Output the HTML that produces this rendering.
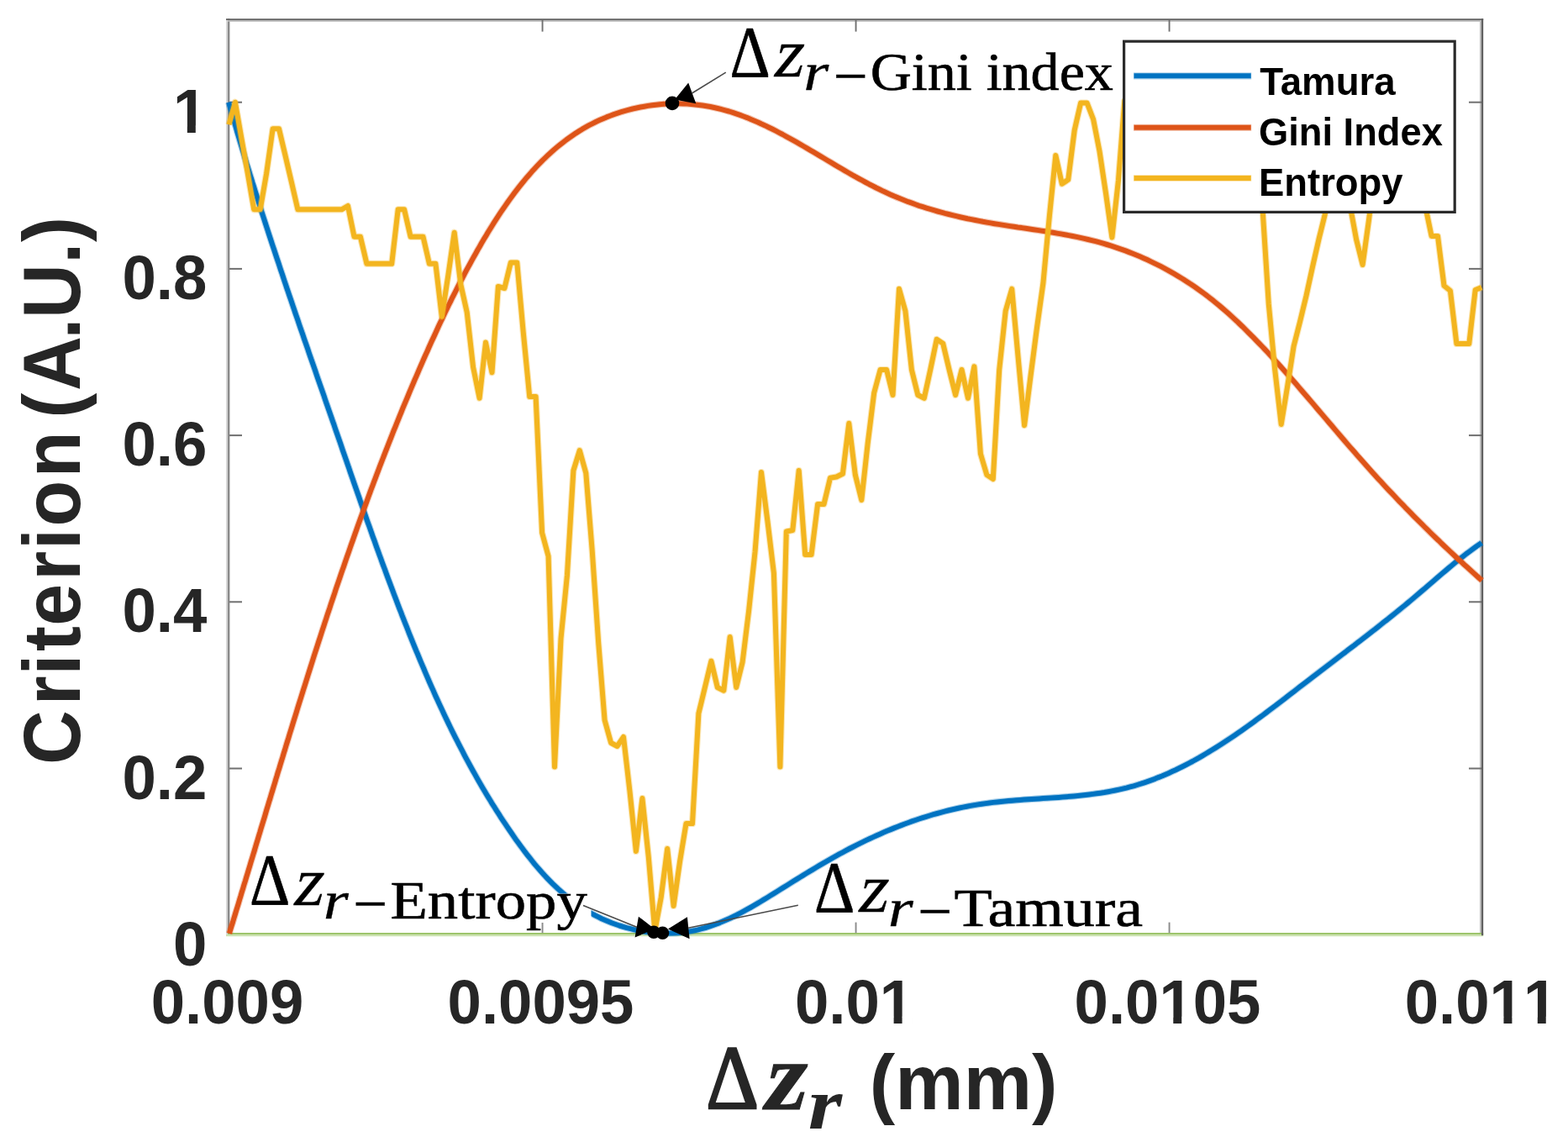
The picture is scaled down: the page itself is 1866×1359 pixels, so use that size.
<!DOCTYPE html>
<html lang="en"><head><meta charset="utf-8"><title>Criterion vs reconstruction distance</title>
<style>
html,body{margin:0;padding:0;background:#fff;}
body{width:1866px;height:1359px;overflow:hidden;}
svg{display:block;}
.sb{font-family:"Liberation Sans",Arial,Helvetica,sans-serif;font-weight:bold;}
.nk{font-kerning:none;}
.se{font-family:"Liberation Serif","Times New Roman",serif;}
.si{font-family:"Liberation Serif","Times New Roman",serif;font-style:italic;}
.seb{font-family:"Liberation Serif","Times New Roman",serif;font-weight:bold;}
.sbi{font-family:"Liberation Serif","Times New Roman",serif;font-weight:bold;font-style:italic;}
</style></head><body>
<svg width="1866" height="1359" viewBox="0 0 1866 1359">
<rect x="0" y="0" width="1866" height="1359" fill="#ffffff"/>
<defs><clipPath id="plot"><rect x="271.0" y="23.3" width="1494.0" height="1091.4"/></clipPath></defs>

<g>
<rect x="269" y="1110.0" width="1496.2" height="2.3" fill="#9DC56C"/>
<rect x="269" y="1112.3" width="1496.2" height="1.9" fill="#C9E0AB"/>
<rect x="269.0" y="22.2" width="2.0" height="1090" fill="#d6d6d6"/>
<rect x="271.0" y="22.2" width="2.4" height="1088" fill="#8a8a8a"/>
<rect x="269" y="22.2" width="1496.2" height="1.8" fill="#666666"/>
<rect x="271" y="24.0" width="1492" height="1.8" fill="#b8b8b8"/>
<rect x="1761.0" y="24" width="2.0" height="1086" fill="#bdbdbd"/>
<rect x="1763.0" y="22.2" width="2.2" height="1091" fill="#5e5e5e"/>
<rect x="644.6" y="24" width="1.9" height="13.6" fill="#707070"/>
<rect x="644.6" y="1097.6" width="1.9" height="12.6" fill="#8a8a8a"/>
<rect x="1017.6" y="24" width="1.9" height="13.6" fill="#707070"/>
<rect x="1017.6" y="1097.6" width="1.9" height="12.6" fill="#8a8a8a"/>
<rect x="1390.6" y="24" width="1.9" height="13.6" fill="#707070"/>
<rect x="1390.6" y="1097.6" width="1.9" height="12.6" fill="#8a8a8a"/>
<rect x="273" y="913.5" width="15" height="2.0" fill="#707070"/>
<rect x="1748" y="913.5" width="15" height="2.0" fill="#707070"/>
<rect x="273" y="715.3" width="15" height="2.0" fill="#707070"/>
<rect x="1748" y="715.3" width="15" height="2.0" fill="#707070"/>
<rect x="273" y="517.1" width="15" height="2.0" fill="#707070"/>
<rect x="1748" y="517.1" width="15" height="2.0" fill="#707070"/>
<rect x="273" y="318.9" width="15" height="2.0" fill="#707070"/>
<rect x="1748" y="318.9" width="15" height="2.0" fill="#707070"/>
<rect x="273" y="120.7" width="15" height="2.0" fill="#707070"/>
<rect x="1748" y="120.7" width="15" height="2.0" fill="#707070"/>
</g>
<g fill="none" stroke-linejoin="round" stroke-linecap="butt">
<path d="M272.2,121.7 L273.4,126.1 L274.7,130.5 L275.9,134.9 L277.2,139.3 L278.4,143.6 L279.7,148.0 L281.0,152.4 L282.2,156.8 L283.5,161.1 L284.8,165.5 L286.1,169.9 L287.4,174.2 L288.7,178.6 L290.0,182.9 L291.3,187.3 L292.6,191.6 L293.9,196.0 L295.3,200.3 L296.6,204.7 L297.9,209.0 L299.3,213.3 L300.6,217.7 L302.0,222.0 L303.3,226.3 L304.7,230.7 L306.1,235.0 L307.4,239.3 L308.8,243.6 L310.2,248.0 L311.5,252.3 L312.9,256.6 L314.3,260.9 L315.7,265.2 L317.1,269.6 L318.5,273.9 L319.9,278.2 L321.3,282.5 L322.7,286.8 L324.1,291.1 L325.6,295.4 L327.0,299.7 L328.4,304.0 L329.8,308.3 L331.3,312.6 L332.7,316.9 L334.1,321.2 L335.6,325.5 L337.0,329.8 L338.4,334.1 L339.9,338.4 L341.3,342.7 L342.8,347.0 L344.2,351.3 L345.7,355.6 L347.2,359.9 L348.6,364.1 L350.1,368.4 L351.5,372.7 L353.0,377.0 L354.5,381.3 L355.9,385.6 L357.4,389.9 L358.9,394.2 L360.4,398.4 L361.8,402.7 L363.3,407.0 L364.8,411.3 L366.3,415.6 L367.7,419.9 L369.2,424.2 L370.7,428.4 L372.2,432.7 L373.7,437.0 L375.2,441.3 L376.6,445.6 L378.1,449.9 L379.6,454.2 L381.1,458.5 L382.6,462.7 L384.1,467.0 L385.6,471.3 L387.0,475.6 L388.5,479.9 L390.0,484.2 L391.5,488.5 L393.0,492.8 L394.5,497.1 L396.0,501.4 L397.5,505.6 L398.9,509.9 L400.4,514.2 L401.9,518.5 L403.4,522.8 L404.9,527.1 L406.4,531.4 L407.8,535.7 L409.3,540.0 L410.8,544.3 L412.3,548.6 L413.8,552.9 L415.3,557.2 L416.7,561.5 L418.2,565.8 L419.7,570.1 L421.2,574.4 L422.7,578.7 L424.2,583.0 L425.7,587.3 L427.2,591.6 L428.7,595.9 L430.2,600.2 L431.7,604.5 L433.2,608.8 L434.7,613.1 L436.2,617.4 L437.7,621.7 L439.3,626.0 L440.8,630.3 L442.3,634.6 L443.8,638.9 L445.4,643.1 L446.9,647.4 L448.4,651.7 L450.0,656.0 L451.5,660.3 L453.1,664.5 L454.6,668.8 L456.2,673.1 L457.8,677.3 L459.3,681.6 L460.9,685.9 L462.5,690.1 L464.1,694.4 L465.7,698.6 L467.3,702.9 L468.9,707.2 L470.5,711.4 L472.1,715.6 L473.7,719.9 L475.3,724.1 L477.0,728.3 L478.6,732.6 L480.3,736.8 L481.9,741.0 L483.6,745.2 L485.3,749.5 L486.9,753.7 L488.6,757.9 L490.3,762.1 L492.0,766.3 L493.7,770.5 L495.4,774.7 L497.2,778.8 L498.9,783.0 L500.6,787.2 L502.4,791.4 L504.2,795.5 L505.9,799.7 L507.7,803.9 L509.5,808.0 L511.3,812.2 L513.1,816.3 L515.0,820.4 L516.8,824.6 L518.6,828.7 L520.5,832.8 L522.4,836.9 L524.3,841.0 L526.2,845.1 L528.1,849.2 L530.0,853.3 L532.0,857.4 L533.9,861.4 L535.9,865.5 L537.9,869.6 L539.9,873.6 L541.9,877.6 L544.0,881.7 L546.0,885.7 L548.1,889.7 L550.2,893.7 L552.3,897.8 L554.4,901.8 L556.5,905.7 L558.7,909.7 L560.9,913.7 L563.1,917.7 L565.3,921.6 L567.5,925.6 L569.7,929.5 L572.0,933.4 L574.3,937.4 L576.6,941.3 L578.9,945.2 L581.3,949.1 L583.7,953.0 L586.0,956.9 L588.5,960.7 L590.9,964.6 L593.4,968.4 L595.8,972.3 L598.3,976.1 L600.9,979.9 L603.4,983.7 L606.0,987.5 L608.6,991.3 L611.2,995.1 L613.8,998.9 L616.5,1002.6 L619.2,1006.3 L622.0,1010.0 L624.7,1013.7 L627.5,1017.3 L630.4,1020.9 L633.2,1024.5 L636.1,1028.1 L639.1,1031.6 L642.1,1035.0 L645.1,1038.4 L648.1,1041.8 L651.2,1045.1 L654.4,1048.4 L657.6,1051.6 L660.8,1054.7 L664.1,1057.8 L667.5,1060.8 L670.9,1063.8 L674.3,1066.7 L677.8,1069.5 L681.4,1072.2 L685.0,1074.9 L688.6,1077.5 L692.3,1080.0 L696.1,1082.4 L700.0,1084.8 L703.9,1087.0 L707.8,1089.1 L711.9,1091.2 L716.0,1093.2 L720.1,1095.0 L724.3,1096.8 L728.5,1098.5 L732.8,1100.0 L737.1,1101.5 L741.5,1102.8 L745.9,1104.1 L750.3,1105.2 L754.7,1106.3 L759.2,1107.2 L763.7,1108.0 L768.2,1108.8 L772.7,1109.4 L777.2,1109.8 L781.8,1110.2 L786.3,1110.5 L790.8,1110.6 L795.3,1110.6 L799.9,1110.5 L804.4,1110.3 L808.8,1109.9 L813.3,1109.5 L817.8,1108.9 L822.2,1108.1 L826.6,1107.3 L830.9,1106.3 L835.2,1105.2 L839.5,1104.0 L843.8,1102.7 L848.0,1101.2 L852.2,1099.7 L856.4,1098.1 L860.6,1096.3 L864.7,1094.5 L868.8,1092.7 L872.9,1090.7 L877.0,1088.7 L881.0,1086.6 L885.1,1084.4 L889.1,1082.2 L893.1,1080.0 L897.1,1077.7 L901.0,1075.4 L905.0,1073.0 L908.9,1070.6 L912.9,1068.2 L916.8,1065.8 L920.7,1063.4 L924.6,1061.0 L928.5,1058.5 L932.4,1056.1 L936.3,1053.7 L940.2,1051.3 L944.1,1048.8 L948.0,1046.4 L951.9,1044.0 L955.8,1041.6 L959.6,1039.3 L963.5,1036.9 L967.4,1034.6 L971.3,1032.2 L975.2,1029.9 L979.1,1027.6 L983.1,1025.3 L987.0,1023.1 L990.9,1020.8 L994.9,1018.6 L998.8,1016.4 L1002.8,1014.3 L1006.8,1012.1 L1010.8,1010.0 L1014.8,1008.0 L1018.9,1005.9 L1022.9,1003.9 L1027.0,1001.9 L1031.0,999.9 L1035.1,998.0 L1039.2,996.1 L1043.3,994.2 L1047.4,992.4 L1051.6,990.6 L1055.7,988.8 L1059.9,987.1 L1064.1,985.4 L1068.3,983.7 L1072.5,982.1 L1076.7,980.5 L1080.9,979.0 L1085.2,977.4 L1089.4,976.0 L1093.7,974.5 L1098.0,973.1 L1102.3,971.8 L1106.6,970.5 L1110.9,969.2 L1115.3,968.0 L1119.6,966.8 L1124.0,965.6 L1128.4,964.5 L1132.8,963.5 L1137.2,962.5 L1141.6,961.5 L1146.0,960.6 L1150.5,959.7 L1154.9,958.9 L1159.4,958.1 L1163.9,957.4 L1168.4,956.7 L1172.9,956.1 L1177.4,955.5 L1182.0,954.9 L1186.5,954.4 L1191.1,953.9 L1195.7,953.5 L1200.2,953.1 L1204.8,952.7 L1209.4,952.3 L1214.0,952.0 L1218.6,951.6 L1223.2,951.3 L1227.8,951.0 L1232.4,950.7 L1236.9,950.4 L1241.5,950.1 L1246.1,949.8 L1250.7,949.5 L1255.3,949.2 L1259.9,948.9 L1264.5,948.5 L1269.0,948.2 L1273.6,947.8 L1278.2,947.4 L1282.7,947.0 L1287.2,946.5 L1291.8,946.0 L1296.3,945.5 L1300.8,944.9 L1305.3,944.3 L1309.7,943.7 L1314.2,943.0 L1318.6,942.2 L1323.0,941.4 L1327.4,940.5 L1331.8,939.6 L1336.2,938.6 L1340.5,937.6 L1344.8,936.4 L1349.1,935.3 L1353.4,934.0 L1357.7,932.7 L1361.9,931.3 L1366.1,929.8 L1370.3,928.3 L1374.5,926.8 L1378.6,925.1 L1382.8,923.5 L1386.9,921.7 L1391.0,919.9 L1395.0,918.1 L1399.1,916.2 L1403.1,914.2 L1407.2,912.2 L1411.2,910.2 L1415.2,908.1 L1419.2,906.0 L1423.1,903.8 L1427.1,901.6 L1431.0,899.3 L1434.9,897.0 L1438.8,894.7 L1442.7,892.3 L1446.6,889.9 L1450.4,887.5 L1454.3,885.0 L1458.1,882.5 L1461.9,880.0 L1465.7,877.5 L1469.5,874.9 L1473.3,872.3 L1477.1,869.7 L1480.9,867.0 L1484.6,864.3 L1488.3,861.7 L1492.1,859.0 L1495.8,856.2 L1499.5,853.5 L1503.2,850.8 L1506.9,848.0 L1510.6,845.2 L1514.3,842.4 L1518.0,839.7 L1521.6,836.9 L1525.3,834.1 L1528.9,831.3 L1532.6,828.4 L1536.2,825.6 L1539.9,822.8 L1543.5,820.0 L1547.1,817.2 L1550.8,814.4 L1554.4,811.7 L1558.0,808.9 L1561.6,806.1 L1565.2,803.3 L1568.8,800.6 L1572.4,797.8 L1576.0,795.1 L1579.6,792.3 L1583.2,789.6 L1586.8,786.9 L1590.4,784.1 L1593.9,781.4 L1597.5,778.7 L1601.1,776.0 L1604.6,773.2 L1608.2,770.5 L1611.8,767.8 L1615.3,765.0 L1618.9,762.3 L1622.4,759.6 L1626.0,756.8 L1629.5,754.1 L1633.0,751.3 L1636.6,748.6 L1640.1,745.8 L1643.6,743.0 L1647.1,740.2 L1650.7,737.5 L1654.2,734.6 L1657.7,731.8 L1661.2,729.0 L1664.7,726.2 L1668.2,723.3 L1671.7,720.5 L1675.1,717.6 L1678.6,714.7 L1682.1,711.8 L1685.6,708.8 L1689.0,705.9 L1692.5,702.9 L1696.0,700.0 L1699.4,697.0 L1702.9,694.0 L1706.4,691.0 L1709.8,688.0 L1713.3,685.0 L1716.8,682.0 L1720.3,679.1 L1723.8,676.1 L1727.3,673.2 L1730.8,670.3 L1734.3,667.4 L1737.9,664.6 L1741.5,661.8 L1745.0,659.0 L1748.7,656.3 L1752.3,653.6 L1755.9,651.0 L1759.6,648.4 L1763.3,645.9" stroke="#0073C2" stroke-width="8.2" stroke-opacity="0.32"/>
<path d="M272.2,121.7 L273.4,126.1 L274.7,130.5 L275.9,134.9 L277.2,139.3 L278.4,143.6 L279.7,148.0 L281.0,152.4 L282.2,156.8 L283.5,161.1 L284.8,165.5 L286.1,169.9 L287.4,174.2 L288.7,178.6 L290.0,182.9 L291.3,187.3 L292.6,191.6 L293.9,196.0 L295.3,200.3 L296.6,204.7 L297.9,209.0 L299.3,213.3 L300.6,217.7 L302.0,222.0 L303.3,226.3 L304.7,230.7 L306.1,235.0 L307.4,239.3 L308.8,243.6 L310.2,248.0 L311.5,252.3 L312.9,256.6 L314.3,260.9 L315.7,265.2 L317.1,269.6 L318.5,273.9 L319.9,278.2 L321.3,282.5 L322.7,286.8 L324.1,291.1 L325.6,295.4 L327.0,299.7 L328.4,304.0 L329.8,308.3 L331.3,312.6 L332.7,316.9 L334.1,321.2 L335.6,325.5 L337.0,329.8 L338.4,334.1 L339.9,338.4 L341.3,342.7 L342.8,347.0 L344.2,351.3 L345.7,355.6 L347.2,359.9 L348.6,364.1 L350.1,368.4 L351.5,372.7 L353.0,377.0 L354.5,381.3 L355.9,385.6 L357.4,389.9 L358.9,394.2 L360.4,398.4 L361.8,402.7 L363.3,407.0 L364.8,411.3 L366.3,415.6 L367.7,419.9 L369.2,424.2 L370.7,428.4 L372.2,432.7 L373.7,437.0 L375.2,441.3 L376.6,445.6 L378.1,449.9 L379.6,454.2 L381.1,458.5 L382.6,462.7 L384.1,467.0 L385.6,471.3 L387.0,475.6 L388.5,479.9 L390.0,484.2 L391.5,488.5 L393.0,492.8 L394.5,497.1 L396.0,501.4 L397.5,505.6 L398.9,509.9 L400.4,514.2 L401.9,518.5 L403.4,522.8 L404.9,527.1 L406.4,531.4 L407.8,535.7 L409.3,540.0 L410.8,544.3 L412.3,548.6 L413.8,552.9 L415.3,557.2 L416.7,561.5 L418.2,565.8 L419.7,570.1 L421.2,574.4 L422.7,578.7 L424.2,583.0 L425.7,587.3 L427.2,591.6 L428.7,595.9 L430.2,600.2 L431.7,604.5 L433.2,608.8 L434.7,613.1 L436.2,617.4 L437.7,621.7 L439.3,626.0 L440.8,630.3 L442.3,634.6 L443.8,638.9 L445.4,643.1 L446.9,647.4 L448.4,651.7 L450.0,656.0 L451.5,660.3 L453.1,664.5 L454.6,668.8 L456.2,673.1 L457.8,677.3 L459.3,681.6 L460.9,685.9 L462.5,690.1 L464.1,694.4 L465.7,698.6 L467.3,702.9 L468.9,707.2 L470.5,711.4 L472.1,715.6 L473.7,719.9 L475.3,724.1 L477.0,728.3 L478.6,732.6 L480.3,736.8 L481.9,741.0 L483.6,745.2 L485.3,749.5 L486.9,753.7 L488.6,757.9 L490.3,762.1 L492.0,766.3 L493.7,770.5 L495.4,774.7 L497.2,778.8 L498.9,783.0 L500.6,787.2 L502.4,791.4 L504.2,795.5 L505.9,799.7 L507.7,803.9 L509.5,808.0 L511.3,812.2 L513.1,816.3 L515.0,820.4 L516.8,824.6 L518.6,828.7 L520.5,832.8 L522.4,836.9 L524.3,841.0 L526.2,845.1 L528.1,849.2 L530.0,853.3 L532.0,857.4 L533.9,861.4 L535.9,865.5 L537.9,869.6 L539.9,873.6 L541.9,877.6 L544.0,881.7 L546.0,885.7 L548.1,889.7 L550.2,893.7 L552.3,897.8 L554.4,901.8 L556.5,905.7 L558.7,909.7 L560.9,913.7 L563.1,917.7 L565.3,921.6 L567.5,925.6 L569.7,929.5 L572.0,933.4 L574.3,937.4 L576.6,941.3 L578.9,945.2 L581.3,949.1 L583.7,953.0 L586.0,956.9 L588.5,960.7 L590.9,964.6 L593.4,968.4 L595.8,972.3 L598.3,976.1 L600.9,979.9 L603.4,983.7 L606.0,987.5 L608.6,991.3 L611.2,995.1 L613.8,998.9 L616.5,1002.6 L619.2,1006.3 L622.0,1010.0 L624.7,1013.7 L627.5,1017.3 L630.4,1020.9 L633.2,1024.5 L636.1,1028.1 L639.1,1031.6 L642.1,1035.0 L645.1,1038.4 L648.1,1041.8 L651.2,1045.1 L654.4,1048.4 L657.6,1051.6 L660.8,1054.7 L664.1,1057.8 L667.5,1060.8 L670.9,1063.8 L674.3,1066.7 L677.8,1069.5 L681.4,1072.2 L685.0,1074.9 L688.6,1077.5 L692.3,1080.0 L696.1,1082.4 L700.0,1084.8 L703.9,1087.0 L707.8,1089.1 L711.9,1091.2 L716.0,1093.2 L720.1,1095.0 L724.3,1096.8 L728.5,1098.5 L732.8,1100.0 L737.1,1101.5 L741.5,1102.8 L745.9,1104.1 L750.3,1105.2 L754.7,1106.3 L759.2,1107.2 L763.7,1108.0 L768.2,1108.8 L772.7,1109.4 L777.2,1109.8 L781.8,1110.2 L786.3,1110.5 L790.8,1110.6 L795.3,1110.6 L799.9,1110.5 L804.4,1110.3 L808.8,1109.9 L813.3,1109.5 L817.8,1108.9 L822.2,1108.1 L826.6,1107.3 L830.9,1106.3 L835.2,1105.2 L839.5,1104.0 L843.8,1102.7 L848.0,1101.2 L852.2,1099.7 L856.4,1098.1 L860.6,1096.3 L864.7,1094.5 L868.8,1092.7 L872.9,1090.7 L877.0,1088.7 L881.0,1086.6 L885.1,1084.4 L889.1,1082.2 L893.1,1080.0 L897.1,1077.7 L901.0,1075.4 L905.0,1073.0 L908.9,1070.6 L912.9,1068.2 L916.8,1065.8 L920.7,1063.4 L924.6,1061.0 L928.5,1058.5 L932.4,1056.1 L936.3,1053.7 L940.2,1051.3 L944.1,1048.8 L948.0,1046.4 L951.9,1044.0 L955.8,1041.6 L959.6,1039.3 L963.5,1036.9 L967.4,1034.6 L971.3,1032.2 L975.2,1029.9 L979.1,1027.6 L983.1,1025.3 L987.0,1023.1 L990.9,1020.8 L994.9,1018.6 L998.8,1016.4 L1002.8,1014.3 L1006.8,1012.1 L1010.8,1010.0 L1014.8,1008.0 L1018.9,1005.9 L1022.9,1003.9 L1027.0,1001.9 L1031.0,999.9 L1035.1,998.0 L1039.2,996.1 L1043.3,994.2 L1047.4,992.4 L1051.6,990.6 L1055.7,988.8 L1059.9,987.1 L1064.1,985.4 L1068.3,983.7 L1072.5,982.1 L1076.7,980.5 L1080.9,979.0 L1085.2,977.4 L1089.4,976.0 L1093.7,974.5 L1098.0,973.1 L1102.3,971.8 L1106.6,970.5 L1110.9,969.2 L1115.3,968.0 L1119.6,966.8 L1124.0,965.6 L1128.4,964.5 L1132.8,963.5 L1137.2,962.5 L1141.6,961.5 L1146.0,960.6 L1150.5,959.7 L1154.9,958.9 L1159.4,958.1 L1163.9,957.4 L1168.4,956.7 L1172.9,956.1 L1177.4,955.5 L1182.0,954.9 L1186.5,954.4 L1191.1,953.9 L1195.7,953.5 L1200.2,953.1 L1204.8,952.7 L1209.4,952.3 L1214.0,952.0 L1218.6,951.6 L1223.2,951.3 L1227.8,951.0 L1232.4,950.7 L1236.9,950.4 L1241.5,950.1 L1246.1,949.8 L1250.7,949.5 L1255.3,949.2 L1259.9,948.9 L1264.5,948.5 L1269.0,948.2 L1273.6,947.8 L1278.2,947.4 L1282.7,947.0 L1287.2,946.5 L1291.8,946.0 L1296.3,945.5 L1300.8,944.9 L1305.3,944.3 L1309.7,943.7 L1314.2,943.0 L1318.6,942.2 L1323.0,941.4 L1327.4,940.5 L1331.8,939.6 L1336.2,938.6 L1340.5,937.6 L1344.8,936.4 L1349.1,935.3 L1353.4,934.0 L1357.7,932.7 L1361.9,931.3 L1366.1,929.8 L1370.3,928.3 L1374.5,926.8 L1378.6,925.1 L1382.8,923.5 L1386.9,921.7 L1391.0,919.9 L1395.0,918.1 L1399.1,916.2 L1403.1,914.2 L1407.2,912.2 L1411.2,910.2 L1415.2,908.1 L1419.2,906.0 L1423.1,903.8 L1427.1,901.6 L1431.0,899.3 L1434.9,897.0 L1438.8,894.7 L1442.7,892.3 L1446.6,889.9 L1450.4,887.5 L1454.3,885.0 L1458.1,882.5 L1461.9,880.0 L1465.7,877.5 L1469.5,874.9 L1473.3,872.3 L1477.1,869.7 L1480.9,867.0 L1484.6,864.3 L1488.3,861.7 L1492.1,859.0 L1495.8,856.2 L1499.5,853.5 L1503.2,850.8 L1506.9,848.0 L1510.6,845.2 L1514.3,842.4 L1518.0,839.7 L1521.6,836.9 L1525.3,834.1 L1528.9,831.3 L1532.6,828.4 L1536.2,825.6 L1539.9,822.8 L1543.5,820.0 L1547.1,817.2 L1550.8,814.4 L1554.4,811.7 L1558.0,808.9 L1561.6,806.1 L1565.2,803.3 L1568.8,800.6 L1572.4,797.8 L1576.0,795.1 L1579.6,792.3 L1583.2,789.6 L1586.8,786.9 L1590.4,784.1 L1593.9,781.4 L1597.5,778.7 L1601.1,776.0 L1604.6,773.2 L1608.2,770.5 L1611.8,767.8 L1615.3,765.0 L1618.9,762.3 L1622.4,759.6 L1626.0,756.8 L1629.5,754.1 L1633.0,751.3 L1636.6,748.6 L1640.1,745.8 L1643.6,743.0 L1647.1,740.2 L1650.7,737.5 L1654.2,734.6 L1657.7,731.8 L1661.2,729.0 L1664.7,726.2 L1668.2,723.3 L1671.7,720.5 L1675.1,717.6 L1678.6,714.7 L1682.1,711.8 L1685.6,708.8 L1689.0,705.9 L1692.5,702.9 L1696.0,700.0 L1699.4,697.0 L1702.9,694.0 L1706.4,691.0 L1709.8,688.0 L1713.3,685.0 L1716.8,682.0 L1720.3,679.1 L1723.8,676.1 L1727.3,673.2 L1730.8,670.3 L1734.3,667.4 L1737.9,664.6 L1741.5,661.8 L1745.0,659.0 L1748.7,656.3 L1752.3,653.6 L1755.9,651.0 L1759.6,648.4 L1763.3,645.9" stroke="#0073C2" stroke-width="6.0"/>
<path d="M272.9,1110.9 L274.2,1106.4 L275.6,1101.9 L277.0,1097.5 L278.3,1093.0 L279.7,1088.5 L281.0,1084.1 L282.4,1079.6 L283.8,1075.1 L285.1,1070.6 L286.5,1066.2 L287.8,1061.7 L289.2,1057.2 L290.5,1052.7 L291.9,1048.3 L293.2,1043.8 L294.6,1039.3 L295.9,1034.9 L297.3,1030.4 L298.6,1025.9 L300.0,1021.4 L301.3,1017.0 L302.7,1012.5 L304.0,1008.0 L305.3,1003.6 L306.7,999.1 L308.0,994.6 L309.4,990.2 L310.7,985.7 L312.1,981.2 L313.4,976.8 L314.8,972.3 L316.1,967.8 L317.4,963.4 L318.8,958.9 L320.1,954.4 L321.5,950.0 L322.8,945.5 L324.2,941.0 L325.5,936.6 L326.9,932.1 L328.2,927.6 L329.6,923.2 L330.9,918.7 L332.3,914.3 L333.6,909.8 L335.0,905.3 L336.4,900.9 L337.7,896.4 L339.1,892.0 L340.4,887.5 L341.8,883.0 L343.2,878.6 L344.5,874.1 L345.9,869.7 L347.3,865.2 L348.6,860.8 L350.0,856.3 L351.4,851.9 L352.8,847.4 L354.1,843.0 L355.5,838.5 L356.9,834.1 L358.3,829.6 L359.7,825.2 L361.1,820.7 L362.5,816.3 L363.9,811.8 L365.3,807.4 L366.7,802.9 L368.1,798.5 L369.5,794.0 L370.9,789.6 L372.3,785.2 L373.7,780.7 L375.1,776.3 L376.6,771.8 L378.0,767.4 L379.4,763.0 L380.9,758.5 L382.3,754.1 L383.7,749.7 L385.2,745.2 L386.6,740.8 L388.1,736.4 L389.5,731.9 L391.0,727.5 L392.5,723.1 L393.9,718.6 L395.4,714.2 L396.9,709.8 L398.4,705.4 L399.8,700.9 L401.3,696.5 L402.8,692.1 L404.3,687.7 L405.8,683.3 L407.3,678.9 L408.9,674.4 L410.4,670.0 L411.9,665.6 L413.4,661.2 L415.0,656.8 L416.5,652.4 L418.0,648.0 L419.6,643.6 L421.1,639.2 L422.7,634.7 L424.3,630.3 L425.8,625.9 L427.4,621.5 L429.0,617.1 L430.6,612.7 L432.2,608.3 L433.8,603.9 L435.4,599.6 L437.0,595.2 L438.6,590.8 L440.2,586.4 L441.8,582.0 L443.5,577.6 L445.1,573.2 L446.8,568.8 L448.4,564.5 L450.1,560.1 L451.7,555.7 L453.4,551.3 L455.1,547.0 L456.8,542.6 L458.5,538.2 L460.2,533.9 L461.9,529.5 L463.6,525.2 L465.3,520.8 L467.0,516.5 L468.7,512.1 L470.5,507.8 L472.2,503.5 L474.0,499.1 L475.7,494.8 L477.5,490.5 L479.2,486.2 L481.0,481.9 L482.8,477.6 L484.6,473.3 L486.4,469.0 L488.2,464.7 L490.0,460.4 L491.8,456.1 L493.6,451.9 L495.5,447.6 L497.3,443.3 L499.1,439.1 L501.0,434.8 L502.8,430.6 L504.7,426.3 L506.6,422.1 L508.5,417.9 L510.3,413.7 L512.2,409.5 L514.1,405.3 L516.1,401.1 L518.0,396.9 L519.9,392.7 L521.8,388.5 L523.8,384.3 L525.8,380.2 L527.7,376.0 L529.7,371.8 L531.7,367.7 L533.7,363.5 L535.8,359.4 L537.8,355.2 L539.9,351.1 L542.0,347.0 L544.1,342.8 L546.2,338.7 L548.3,334.6 L550.5,330.5 L552.6,326.3 L554.8,322.2 L557.0,318.1 L559.3,314.0 L561.5,309.9 L563.8,305.8 L566.1,301.7 L568.4,297.5 L570.8,293.4 L573.1,289.3 L575.5,285.2 L578.0,281.2 L580.4,277.1 L582.9,273.0 L585.4,269.0 L587.9,264.9 L590.5,260.9 L593.1,256.9 L595.7,252.9 L598.4,249.0 L601.1,245.1 L603.8,241.2 L606.6,237.3 L609.4,233.4 L612.2,229.6 L615.1,225.9 L618.0,222.1 L620.9,218.5 L623.9,214.8 L626.9,211.2 L630.0,207.7 L633.1,204.1 L636.2,200.7 L639.4,197.3 L642.7,193.9 L645.9,190.6 L649.3,187.4 L652.6,184.2 L656.1,181.1 L659.5,178.0 L663.0,175.0 L666.6,172.1 L670.2,169.3 L673.8,166.5 L677.6,163.8 L681.3,161.2 L685.1,158.6 L689.0,156.1 L692.9,153.7 L696.9,151.4 L700.9,149.2 L705.0,147.1 L709.1,145.0 L713.3,143.1 L717.6,141.2 L721.8,139.4 L726.2,137.7 L730.5,136.1 L735.0,134.6 L739.4,133.2 L743.9,131.9 L748.4,130.7 L752.9,129.5 L757.5,128.5 L762.1,127.5 L766.7,126.7 L771.3,125.9 L775.9,125.3 L780.6,124.7 L785.2,124.2 L789.9,123.8 L794.5,123.6 L799.2,123.4 L803.8,123.3 L808.5,123.3 L813.2,123.4 L817.8,123.6 L822.4,124.0 L827.0,124.4 L831.6,124.9 L836.2,125.5 L840.7,126.2 L845.3,127.0 L849.8,128.0 L854.2,129.0 L858.7,130.1 L863.1,131.3 L867.5,132.5 L871.9,133.9 L876.2,135.4 L880.6,136.9 L884.9,138.5 L889.2,140.1 L893.5,141.9 L897.8,143.7 L902.0,145.5 L906.2,147.5 L910.5,149.4 L914.7,151.5 L918.9,153.5 L923.1,155.7 L927.2,157.8 L931.4,160.0 L935.5,162.3 L939.7,164.6 L943.8,166.9 L947.9,169.2 L952.1,171.6 L956.2,174.0 L960.3,176.4 L964.4,178.8 L968.5,181.2 L972.6,183.6 L976.7,186.1 L980.8,188.5 L984.9,191.0 L989.0,193.4 L993.1,195.9 L997.2,198.3 L1001.3,200.7 L1005.4,203.1 L1009.5,205.5 L1013.6,207.8 L1017.7,210.2 L1021.9,212.5 L1026.0,214.7 L1030.2,217.0 L1034.3,219.2 L1038.5,221.3 L1042.7,223.5 L1046.9,225.5 L1051.1,227.6 L1055.3,229.5 L1059.5,231.4 L1063.7,233.3 L1068.0,235.1 L1072.3,236.8 L1076.6,238.5 L1080.9,240.2 L1085.2,241.7 L1089.5,243.3 L1093.8,244.8 L1098.2,246.2 L1102.6,247.6 L1107.0,248.9 L1111.4,250.2 L1115.8,251.5 L1120.2,252.7 L1124.6,253.9 L1129.1,255.0 L1133.5,256.1 L1138.0,257.2 L1142.5,258.2 L1147.0,259.2 L1151.5,260.2 L1156.1,261.1 L1160.6,262.0 L1165.2,262.9 L1169.7,263.8 L1174.3,264.6 L1178.9,265.4 L1183.5,266.2 L1188.1,266.9 L1192.7,267.6 L1197.4,268.4 L1202.0,269.1 L1206.7,269.8 L1211.3,270.5 L1216.0,271.1 L1220.6,271.8 L1225.3,272.5 L1230.0,273.2 L1234.6,273.9 L1239.3,274.6 L1244.0,275.3 L1248.6,276.1 L1253.3,276.8 L1257.9,277.6 L1262.6,278.4 L1267.2,279.2 L1271.8,280.1 L1276.5,281.0 L1281.1,281.9 L1285.7,282.9 L1290.2,283.9 L1294.8,285.0 L1299.3,286.1 L1303.9,287.2 L1308.4,288.4 L1312.9,289.7 L1317.3,291.0 L1321.8,292.4 L1326.2,293.8 L1330.6,295.3 L1335.0,296.8 L1339.4,298.4 L1343.7,300.1 L1348.0,301.8 L1352.3,303.5 L1356.6,305.3 L1360.9,307.2 L1365.1,309.1 L1369.3,311.1 L1373.4,313.1 L1377.6,315.1 L1381.7,317.2 L1385.8,319.4 L1389.9,321.6 L1393.9,323.9 L1397.9,326.2 L1401.9,328.6 L1405.9,331.0 L1409.8,333.4 L1413.7,336.0 L1417.6,338.5 L1421.4,341.1 L1425.2,343.8 L1429.0,346.5 L1432.7,349.2 L1436.5,352.0 L1440.1,354.8 L1443.8,357.7 L1447.4,360.7 L1451.0,363.6 L1454.5,366.6 L1458.1,369.7 L1461.6,372.8 L1465.0,375.9 L1468.5,379.1 L1471.9,382.2 L1475.3,385.5 L1478.7,388.7 L1482.0,392.0 L1485.3,395.3 L1488.6,398.6 L1491.9,401.9 L1495.2,405.3 L1498.4,408.6 L1501.7,412.0 L1504.9,415.4 L1508.1,418.8 L1511.3,422.3 L1514.5,425.7 L1517.6,429.2 L1520.8,432.6 L1523.9,436.1 L1527.0,439.6 L1530.1,443.1 L1533.2,446.6 L1536.3,450.1 L1539.4,453.6 L1542.5,457.1 L1545.5,460.6 L1548.6,464.2 L1551.6,467.7 L1554.7,471.3 L1557.7,474.8 L1560.8,478.4 L1563.8,481.9 L1566.8,485.5 L1569.8,489.0 L1572.9,492.6 L1575.9,496.1 L1578.9,499.7 L1581.9,503.2 L1585.0,506.8 L1588.0,510.4 L1591.0,513.9 L1594.1,517.5 L1597.1,521.0 L1600.1,524.5 L1603.2,528.1 L1606.2,531.6 L1609.3,535.1 L1612.4,538.6 L1615.4,542.1 L1618.5,545.6 L1621.6,549.1 L1624.7,552.6 L1627.8,556.1 L1630.9,559.6 L1634.0,563.0 L1637.2,566.5 L1640.3,569.9 L1643.5,573.3 L1646.6,576.7 L1649.8,580.2 L1653.0,583.6 L1656.2,586.9 L1659.4,590.3 L1662.6,593.7 L1665.8,597.1 L1669.1,600.4 L1672.3,603.8 L1675.6,607.1 L1678.8,610.4 L1682.1,613.8 L1685.4,617.1 L1688.7,620.4 L1692.0,623.7 L1695.3,627.0 L1698.6,630.2 L1701.9,633.5 L1705.3,636.8 L1708.6,640.0 L1712.0,643.2 L1715.3,646.5 L1718.7,649.7 L1722.1,652.9 L1725.5,656.1 L1728.9,659.3 L1732.3,662.5 L1735.7,665.7 L1739.2,668.8 L1742.6,672.0 L1746.1,675.1 L1749.6,678.3 L1753.0,681.4 L1756.5,684.5 L1760.0,687.7 L1763.5,690.8" stroke="#DE5418" stroke-width="8.2" stroke-opacity="0.32"/>
<path d="M272.9,1110.9 L274.2,1106.4 L275.6,1101.9 L277.0,1097.5 L278.3,1093.0 L279.7,1088.5 L281.0,1084.1 L282.4,1079.6 L283.8,1075.1 L285.1,1070.6 L286.5,1066.2 L287.8,1061.7 L289.2,1057.2 L290.5,1052.7 L291.9,1048.3 L293.2,1043.8 L294.6,1039.3 L295.9,1034.9 L297.3,1030.4 L298.6,1025.9 L300.0,1021.4 L301.3,1017.0 L302.7,1012.5 L304.0,1008.0 L305.3,1003.6 L306.7,999.1 L308.0,994.6 L309.4,990.2 L310.7,985.7 L312.1,981.2 L313.4,976.8 L314.8,972.3 L316.1,967.8 L317.4,963.4 L318.8,958.9 L320.1,954.4 L321.5,950.0 L322.8,945.5 L324.2,941.0 L325.5,936.6 L326.9,932.1 L328.2,927.6 L329.6,923.2 L330.9,918.7 L332.3,914.3 L333.6,909.8 L335.0,905.3 L336.4,900.9 L337.7,896.4 L339.1,892.0 L340.4,887.5 L341.8,883.0 L343.2,878.6 L344.5,874.1 L345.9,869.7 L347.3,865.2 L348.6,860.8 L350.0,856.3 L351.4,851.9 L352.8,847.4 L354.1,843.0 L355.5,838.5 L356.9,834.1 L358.3,829.6 L359.7,825.2 L361.1,820.7 L362.5,816.3 L363.9,811.8 L365.3,807.4 L366.7,802.9 L368.1,798.5 L369.5,794.0 L370.9,789.6 L372.3,785.2 L373.7,780.7 L375.1,776.3 L376.6,771.8 L378.0,767.4 L379.4,763.0 L380.9,758.5 L382.3,754.1 L383.7,749.7 L385.2,745.2 L386.6,740.8 L388.1,736.4 L389.5,731.9 L391.0,727.5 L392.5,723.1 L393.9,718.6 L395.4,714.2 L396.9,709.8 L398.4,705.4 L399.8,700.9 L401.3,696.5 L402.8,692.1 L404.3,687.7 L405.8,683.3 L407.3,678.9 L408.9,674.4 L410.4,670.0 L411.9,665.6 L413.4,661.2 L415.0,656.8 L416.5,652.4 L418.0,648.0 L419.6,643.6 L421.1,639.2 L422.7,634.7 L424.3,630.3 L425.8,625.9 L427.4,621.5 L429.0,617.1 L430.6,612.7 L432.2,608.3 L433.8,603.9 L435.4,599.6 L437.0,595.2 L438.6,590.8 L440.2,586.4 L441.8,582.0 L443.5,577.6 L445.1,573.2 L446.8,568.8 L448.4,564.5 L450.1,560.1 L451.7,555.7 L453.4,551.3 L455.1,547.0 L456.8,542.6 L458.5,538.2 L460.2,533.9 L461.9,529.5 L463.6,525.2 L465.3,520.8 L467.0,516.5 L468.7,512.1 L470.5,507.8 L472.2,503.5 L474.0,499.1 L475.7,494.8 L477.5,490.5 L479.2,486.2 L481.0,481.9 L482.8,477.6 L484.6,473.3 L486.4,469.0 L488.2,464.7 L490.0,460.4 L491.8,456.1 L493.6,451.9 L495.5,447.6 L497.3,443.3 L499.1,439.1 L501.0,434.8 L502.8,430.6 L504.7,426.3 L506.6,422.1 L508.5,417.9 L510.3,413.7 L512.2,409.5 L514.1,405.3 L516.1,401.1 L518.0,396.9 L519.9,392.7 L521.8,388.5 L523.8,384.3 L525.8,380.2 L527.7,376.0 L529.7,371.8 L531.7,367.7 L533.7,363.5 L535.8,359.4 L537.8,355.2 L539.9,351.1 L542.0,347.0 L544.1,342.8 L546.2,338.7 L548.3,334.6 L550.5,330.5 L552.6,326.3 L554.8,322.2 L557.0,318.1 L559.3,314.0 L561.5,309.9 L563.8,305.8 L566.1,301.7 L568.4,297.5 L570.8,293.4 L573.1,289.3 L575.5,285.2 L578.0,281.2 L580.4,277.1 L582.9,273.0 L585.4,269.0 L587.9,264.9 L590.5,260.9 L593.1,256.9 L595.7,252.9 L598.4,249.0 L601.1,245.1 L603.8,241.2 L606.6,237.3 L609.4,233.4 L612.2,229.6 L615.1,225.9 L618.0,222.1 L620.9,218.5 L623.9,214.8 L626.9,211.2 L630.0,207.7 L633.1,204.1 L636.2,200.7 L639.4,197.3 L642.7,193.9 L645.9,190.6 L649.3,187.4 L652.6,184.2 L656.1,181.1 L659.5,178.0 L663.0,175.0 L666.6,172.1 L670.2,169.3 L673.8,166.5 L677.6,163.8 L681.3,161.2 L685.1,158.6 L689.0,156.1 L692.9,153.7 L696.9,151.4 L700.9,149.2 L705.0,147.1 L709.1,145.0 L713.3,143.1 L717.6,141.2 L721.8,139.4 L726.2,137.7 L730.5,136.1 L735.0,134.6 L739.4,133.2 L743.9,131.9 L748.4,130.7 L752.9,129.5 L757.5,128.5 L762.1,127.5 L766.7,126.7 L771.3,125.9 L775.9,125.3 L780.6,124.7 L785.2,124.2 L789.9,123.8 L794.5,123.6 L799.2,123.4 L803.8,123.3 L808.5,123.3 L813.2,123.4 L817.8,123.6 L822.4,124.0 L827.0,124.4 L831.6,124.9 L836.2,125.5 L840.7,126.2 L845.3,127.0 L849.8,128.0 L854.2,129.0 L858.7,130.1 L863.1,131.3 L867.5,132.5 L871.9,133.9 L876.2,135.4 L880.6,136.9 L884.9,138.5 L889.2,140.1 L893.5,141.9 L897.8,143.7 L902.0,145.5 L906.2,147.5 L910.5,149.4 L914.7,151.5 L918.9,153.5 L923.1,155.7 L927.2,157.8 L931.4,160.0 L935.5,162.3 L939.7,164.6 L943.8,166.9 L947.9,169.2 L952.1,171.6 L956.2,174.0 L960.3,176.4 L964.4,178.8 L968.5,181.2 L972.6,183.6 L976.7,186.1 L980.8,188.5 L984.9,191.0 L989.0,193.4 L993.1,195.9 L997.2,198.3 L1001.3,200.7 L1005.4,203.1 L1009.5,205.5 L1013.6,207.8 L1017.7,210.2 L1021.9,212.5 L1026.0,214.7 L1030.2,217.0 L1034.3,219.2 L1038.5,221.3 L1042.7,223.5 L1046.9,225.5 L1051.1,227.6 L1055.3,229.5 L1059.5,231.4 L1063.7,233.3 L1068.0,235.1 L1072.3,236.8 L1076.6,238.5 L1080.9,240.2 L1085.2,241.7 L1089.5,243.3 L1093.8,244.8 L1098.2,246.2 L1102.6,247.6 L1107.0,248.9 L1111.4,250.2 L1115.8,251.5 L1120.2,252.7 L1124.6,253.9 L1129.1,255.0 L1133.5,256.1 L1138.0,257.2 L1142.5,258.2 L1147.0,259.2 L1151.5,260.2 L1156.1,261.1 L1160.6,262.0 L1165.2,262.9 L1169.7,263.8 L1174.3,264.6 L1178.9,265.4 L1183.5,266.2 L1188.1,266.9 L1192.7,267.6 L1197.4,268.4 L1202.0,269.1 L1206.7,269.8 L1211.3,270.5 L1216.0,271.1 L1220.6,271.8 L1225.3,272.5 L1230.0,273.2 L1234.6,273.9 L1239.3,274.6 L1244.0,275.3 L1248.6,276.1 L1253.3,276.8 L1257.9,277.6 L1262.6,278.4 L1267.2,279.2 L1271.8,280.1 L1276.5,281.0 L1281.1,281.9 L1285.7,282.9 L1290.2,283.9 L1294.8,285.0 L1299.3,286.1 L1303.9,287.2 L1308.4,288.4 L1312.9,289.7 L1317.3,291.0 L1321.8,292.4 L1326.2,293.8 L1330.6,295.3 L1335.0,296.8 L1339.4,298.4 L1343.7,300.1 L1348.0,301.8 L1352.3,303.5 L1356.6,305.3 L1360.9,307.2 L1365.1,309.1 L1369.3,311.1 L1373.4,313.1 L1377.6,315.1 L1381.7,317.2 L1385.8,319.4 L1389.9,321.6 L1393.9,323.9 L1397.9,326.2 L1401.9,328.6 L1405.9,331.0 L1409.8,333.4 L1413.7,336.0 L1417.6,338.5 L1421.4,341.1 L1425.2,343.8 L1429.0,346.5 L1432.7,349.2 L1436.5,352.0 L1440.1,354.8 L1443.8,357.7 L1447.4,360.7 L1451.0,363.6 L1454.5,366.6 L1458.1,369.7 L1461.6,372.8 L1465.0,375.9 L1468.5,379.1 L1471.9,382.2 L1475.3,385.5 L1478.7,388.7 L1482.0,392.0 L1485.3,395.3 L1488.6,398.6 L1491.9,401.9 L1495.2,405.3 L1498.4,408.6 L1501.7,412.0 L1504.9,415.4 L1508.1,418.8 L1511.3,422.3 L1514.5,425.7 L1517.6,429.2 L1520.8,432.6 L1523.9,436.1 L1527.0,439.6 L1530.1,443.1 L1533.2,446.6 L1536.3,450.1 L1539.4,453.6 L1542.5,457.1 L1545.5,460.6 L1548.6,464.2 L1551.6,467.7 L1554.7,471.3 L1557.7,474.8 L1560.8,478.4 L1563.8,481.9 L1566.8,485.5 L1569.8,489.0 L1572.9,492.6 L1575.9,496.1 L1578.9,499.7 L1581.9,503.2 L1585.0,506.8 L1588.0,510.4 L1591.0,513.9 L1594.1,517.5 L1597.1,521.0 L1600.1,524.5 L1603.2,528.1 L1606.2,531.6 L1609.3,535.1 L1612.4,538.6 L1615.4,542.1 L1618.5,545.6 L1621.6,549.1 L1624.7,552.6 L1627.8,556.1 L1630.9,559.6 L1634.0,563.0 L1637.2,566.5 L1640.3,569.9 L1643.5,573.3 L1646.6,576.7 L1649.8,580.2 L1653.0,583.6 L1656.2,586.9 L1659.4,590.3 L1662.6,593.7 L1665.8,597.1 L1669.1,600.4 L1672.3,603.8 L1675.6,607.1 L1678.8,610.4 L1682.1,613.8 L1685.4,617.1 L1688.7,620.4 L1692.0,623.7 L1695.3,627.0 L1698.6,630.2 L1701.9,633.5 L1705.3,636.8 L1708.6,640.0 L1712.0,643.2 L1715.3,646.5 L1718.7,649.7 L1722.1,652.9 L1725.5,656.1 L1728.9,659.3 L1732.3,662.5 L1735.7,665.7 L1739.2,668.8 L1742.6,672.0 L1746.1,675.1 L1749.6,678.3 L1753.0,681.4 L1756.5,684.5 L1760.0,687.7 L1763.5,690.8" stroke="#DE5418" stroke-width="6.0"/>
<path d="M272.4,148.3 L279.9,121.7 L287.3,164.0 L294.8,206.5 L302.2,249.3 L309.7,249.3 L317.1,206.5 L324.6,153.3 L332.0,153.3 L339.5,185.0 L346.9,216.7 L354.4,249.3 L361.8,249.3 L369.3,249.3 L376.8,249.3 L384.2,249.3 L391.7,249.3 L399.1,249.3 L406.6,249.3 L414.0,245.0 L421.5,281.7 L428.9,281.7 L436.4,313.8 L443.8,313.8 L451.3,313.8 L458.8,313.8 L466.2,313.8 L473.7,249.3 L481.1,249.3 L488.6,281.7 L496.0,281.7 L503.5,281.7 L510.9,313.8 L518.4,313.8 L525.8,376.7 L533.3,328.0 L540.7,276.7 L548.2,338.0 L555.7,371.7 L563.1,437.0 L570.6,473.8 L578.0,407.5 L585.5,443.3 L592.9,341.0 L600.4,343.0 L607.8,312.5 L615.3,312.5 L622.7,395.0 L630.2,472.0 L637.6,472.0 L645.1,634.0 L652.6,662.0 L660.0,912.5 L667.5,760.0 L674.9,685.0 L682.4,560.0 L689.8,536.0 L697.3,563.0 L704.7,655.0 L712.2,765.0 L719.6,857.0 L727.1,884.0 L734.5,888.0 L742.0,877.0 L749.5,942.0 L756.9,1013.0 L764.4,950.0 L771.8,1020.0 L779.3,1108.0 L786.7,1068.0 L794.2,1010.0 L801.6,1078.0 L809.1,1025.0 L816.5,980.0 L824.0,980.0 L831.4,849.0 L838.9,818.0 L846.4,786.7 L853.8,818.0 L861.3,821.7 L868.7,758.0 L876.2,818.0 L883.6,788.0 L891.1,727.0 L898.5,657.0 L906.0,562.0 L913.4,620.0 L920.9,682.0 L928.4,912.5 L935.8,632.5 L943.3,631.0 L950.7,560.0 L958.2,660.0 L965.6,660.0 L973.1,600.0 L980.5,600.0 L988.0,568.8 L995.4,567.5 L1002.9,563.8 L1010.3,503.8 L1017.8,565.0 L1025.3,595.0 L1032.7,527.5 L1040.2,467.5 L1047.6,440.0 L1055.1,440.0 L1062.5,470.0 L1070.0,343.8 L1077.4,370.0 L1084.9,440.0 L1092.3,470.0 L1099.8,473.8 L1107.2,440.0 L1114.7,403.8 L1122.2,408.8 L1129.6,440.0 L1137.1,470.0 L1144.5,440.0 L1152.0,473.8 L1159.4,436.2 L1166.9,540.0 L1174.3,565.0 L1181.8,570.0 L1189.2,440.0 L1196.7,370.0 L1204.2,343.8 L1211.6,425.0 L1219.1,506.2 L1226.5,447.5 L1234.0,390.0 L1241.4,337.0 L1248.9,257.0 L1256.3,185.0 L1263.8,218.8 L1271.2,213.8 L1278.7,155.0 L1286.1,122.5 L1293.6,122.5 L1301.1,142.0 L1308.5,180.0 L1316.0,230.0 L1323.4,282.5 L1330.9,215.0 L1338.3,120.0 L1345.8,150.0 L1353.2,150.0 L1360.7,150.0 L1368.1,150.0 L1375.6,150.0 L1383.0,150.0 L1390.5,150.0 L1398.0,150.0 L1405.4,150.0 L1412.9,150.0 L1420.3,150.0 L1427.8,150.0 L1435.2,150.0 L1442.7,150.0 L1450.1,150.0 L1457.6,150.0 L1465.0,150.0 L1472.5,150.0 L1479.9,150.0 L1487.4,150.0 L1494.9,150.0 L1502.3,245.0 L1509.8,362.0 L1517.2,440.0 L1524.7,505.0 L1532.1,460.0 L1539.6,412.0 L1547.0,383.0 L1554.5,352.0 L1561.9,318.0 L1569.4,285.0 L1576.8,255.0 L1584.3,200.0 L1591.8,150.0 L1599.2,150.0 L1606.7,245.0 L1614.1,285.0 L1621.6,315.0 L1629.0,262.0 L1636.5,200.0 L1643.9,150.0 L1651.4,150.0 L1658.8,150.0 L1666.3,150.0 L1673.8,150.0 L1681.2,150.0 L1688.7,150.0 L1696.1,245.0 L1703.6,281.0 L1711.0,281.0 L1718.5,340.0 L1725.9,346.0 L1733.4,409.0 L1740.8,409.0 L1748.3,409.0 L1755.7,345.0 L1763.2,342.0" stroke="#F3B51F" stroke-width="8.2" stroke-opacity="0.32"/>
<path d="M272.4,148.3 L279.9,121.7 L287.3,164.0 L294.8,206.5 L302.2,249.3 L309.7,249.3 L317.1,206.5 L324.6,153.3 L332.0,153.3 L339.5,185.0 L346.9,216.7 L354.4,249.3 L361.8,249.3 L369.3,249.3 L376.8,249.3 L384.2,249.3 L391.7,249.3 L399.1,249.3 L406.6,249.3 L414.0,245.0 L421.5,281.7 L428.9,281.7 L436.4,313.8 L443.8,313.8 L451.3,313.8 L458.8,313.8 L466.2,313.8 L473.7,249.3 L481.1,249.3 L488.6,281.7 L496.0,281.7 L503.5,281.7 L510.9,313.8 L518.4,313.8 L525.8,376.7 L533.3,328.0 L540.7,276.7 L548.2,338.0 L555.7,371.7 L563.1,437.0 L570.6,473.8 L578.0,407.5 L585.5,443.3 L592.9,341.0 L600.4,343.0 L607.8,312.5 L615.3,312.5 L622.7,395.0 L630.2,472.0 L637.6,472.0 L645.1,634.0 L652.6,662.0 L660.0,912.5 L667.5,760.0 L674.9,685.0 L682.4,560.0 L689.8,536.0 L697.3,563.0 L704.7,655.0 L712.2,765.0 L719.6,857.0 L727.1,884.0 L734.5,888.0 L742.0,877.0 L749.5,942.0 L756.9,1013.0 L764.4,950.0 L771.8,1020.0 L779.3,1108.0 L786.7,1068.0 L794.2,1010.0 L801.6,1078.0 L809.1,1025.0 L816.5,980.0 L824.0,980.0 L831.4,849.0 L838.9,818.0 L846.4,786.7 L853.8,818.0 L861.3,821.7 L868.7,758.0 L876.2,818.0 L883.6,788.0 L891.1,727.0 L898.5,657.0 L906.0,562.0 L913.4,620.0 L920.9,682.0 L928.4,912.5 L935.8,632.5 L943.3,631.0 L950.7,560.0 L958.2,660.0 L965.6,660.0 L973.1,600.0 L980.5,600.0 L988.0,568.8 L995.4,567.5 L1002.9,563.8 L1010.3,503.8 L1017.8,565.0 L1025.3,595.0 L1032.7,527.5 L1040.2,467.5 L1047.6,440.0 L1055.1,440.0 L1062.5,470.0 L1070.0,343.8 L1077.4,370.0 L1084.9,440.0 L1092.3,470.0 L1099.8,473.8 L1107.2,440.0 L1114.7,403.8 L1122.2,408.8 L1129.6,440.0 L1137.1,470.0 L1144.5,440.0 L1152.0,473.8 L1159.4,436.2 L1166.9,540.0 L1174.3,565.0 L1181.8,570.0 L1189.2,440.0 L1196.7,370.0 L1204.2,343.8 L1211.6,425.0 L1219.1,506.2 L1226.5,447.5 L1234.0,390.0 L1241.4,337.0 L1248.9,257.0 L1256.3,185.0 L1263.8,218.8 L1271.2,213.8 L1278.7,155.0 L1286.1,122.5 L1293.6,122.5 L1301.1,142.0 L1308.5,180.0 L1316.0,230.0 L1323.4,282.5 L1330.9,215.0 L1338.3,120.0 L1345.8,150.0 L1353.2,150.0 L1360.7,150.0 L1368.1,150.0 L1375.6,150.0 L1383.0,150.0 L1390.5,150.0 L1398.0,150.0 L1405.4,150.0 L1412.9,150.0 L1420.3,150.0 L1427.8,150.0 L1435.2,150.0 L1442.7,150.0 L1450.1,150.0 L1457.6,150.0 L1465.0,150.0 L1472.5,150.0 L1479.9,150.0 L1487.4,150.0 L1494.9,150.0 L1502.3,245.0 L1509.8,362.0 L1517.2,440.0 L1524.7,505.0 L1532.1,460.0 L1539.6,412.0 L1547.0,383.0 L1554.5,352.0 L1561.9,318.0 L1569.4,285.0 L1576.8,255.0 L1584.3,200.0 L1591.8,150.0 L1599.2,150.0 L1606.7,245.0 L1614.1,285.0 L1621.6,315.0 L1629.0,262.0 L1636.5,200.0 L1643.9,150.0 L1651.4,150.0 L1658.8,150.0 L1666.3,150.0 L1673.8,150.0 L1681.2,150.0 L1688.7,150.0 L1696.1,245.0 L1703.6,281.0 L1711.0,281.0 L1718.5,340.0 L1725.9,346.0 L1733.4,409.0 L1740.8,409.0 L1748.3,409.0 L1755.7,345.0 L1763.2,342.0" stroke="#F3B51F" stroke-width="6.0"/>
</g>
<g>
<rect x="1337.6" y="49.2" width="393.6" height="203.2" fill="#fff" stroke="#2b2b2b" stroke-width="3.2"/>
<line x1="1349.0" y1="90.3" x2="1489.2" y2="90.3" stroke="#0073C2" stroke-width="8.2" stroke-opacity="0.32"/>
<line x1="1349.5" y1="90.3" x2="1488.7" y2="90.3" stroke="#0073C2" stroke-width="6.0"/>
<text class="sb" font-size="47.0" transform="translate(1499.24,113.00) scale(0.9708,1)" fill="#000">Tamura</text>
<line x1="1349.0" y1="151.8" x2="1489.2" y2="151.8" stroke="#DE5418" stroke-width="8.2" stroke-opacity="0.32"/>
<line x1="1349.5" y1="151.8" x2="1488.7" y2="151.8" stroke="#DE5418" stroke-width="6.0"/>
<text class="sb" font-size="47.0" transform="translate(1497.89,172.50) scale(0.9645,1)" fill="#000">Gini Index</text>
<line x1="1349.0" y1="212" x2="1489.2" y2="212" stroke="#F3B51F" stroke-width="8.2" stroke-opacity="0.32"/>
<line x1="1349.5" y1="212" x2="1488.7" y2="212" stroke="#F3B51F" stroke-width="6.0"/>
<text class="sb" font-size="47.0" transform="translate(1498.05,233.40) scale(0.9665,1)" fill="#000">Entropy</text>
</g>
<g fill="#000">
<text class="se" font-size="86.0" transform="translate(868.60,90.70) scale(0.8726,1)" stroke="#000" stroke-width="0.6">Δ</text><text class="se" font-size="83.0" transform="translate(918.81,90.90) scale(0.9585,1) skewX(-12)" stroke="#000" stroke-width="0.5">z</text><text class="si" font-size="64.0" transform="translate(956.21,107.40) scale(1.2054,1)" stroke="#000" stroke-width="0.3">r</text><text class="se" font-size="70.0" transform="translate(991.78,113.78) scale(1.0353,1)" stroke="#000" stroke-width="0.5">−</text><text class="se" font-size="64.0" transform="translate(1035.68,107.40) scale(1.0636,1)" stroke="#000" stroke-width="0.6">Gini index</text>
<rect x="560" y="1063.5" width="143.5" height="34.5" fill="#fff"/><text class="se" font-size="86.0" transform="translate(297.10,1076.30) scale(0.8726,1)" stroke="#000" stroke-width="0.6">Δ</text><text class="se" font-size="83.0" transform="translate(347.31,1076.50) scale(0.9585,1) skewX(-12)" stroke="#000" stroke-width="0.5">z</text><text class="si" font-size="64.0" transform="translate(384.71,1093.00) scale(1.2054,1)" stroke="#000" stroke-width="0.3">r</text><text class="se" font-size="70.0" transform="translate(420.28,1099.38) scale(1.0353,1)" stroke="#000" stroke-width="0.5">−</text><text class="se" font-size="64.0" transform="translate(464.42,1093.00) scale(1.1367,1)" stroke="#000" stroke-width="0.6">Entropy</text>
<text class="se" font-size="86.0" transform="translate(969.10,1084.90) scale(0.8726,1)" stroke="#000" stroke-width="0.6">Δ</text><text class="se" font-size="83.0" transform="translate(1019.31,1085.10) scale(0.9585,1) skewX(-12)" stroke="#000" stroke-width="0.5">z</text><text class="si" font-size="64.0" transform="translate(1056.71,1101.60) scale(1.2054,1)" stroke="#000" stroke-width="0.3">r</text><text class="se" font-size="70.0" transform="translate(1092.28,1107.98) scale(1.0353,1)" stroke="#000" stroke-width="0.5">−</text><text class="se" font-size="64.0" transform="translate(1135.62,1101.60) scale(1.1543,1)" stroke="#000" stroke-width="0.6">Tamura</text>
</g>
<g>
<line x1="863.8" y1="86.1" x2="823.8" y2="110.8" stroke="#4a4a4a" stroke-width="1.6"/><polygon points="803.0,118.6 819.2,98.5 828.3,123.2" fill="#000"/>
<circle cx="800" cy="122.9" r="8.3" fill="#000"/>
<line x1="694" y1="1077.5" x2="757.8" y2="1103.2" stroke="#4a4a4a" stroke-width="1.6"/><polygon points="779,1105.5 759.9,1090.7 755.6,1115.6" fill="#000"/>
<line x1="949.8" y1="1077.3" x2="819.2" y2="1104.2" stroke="#4a4a4a" stroke-width="1.6"/><polygon points="795,1105.5 817.9,1091.2 820.6,1117.3" fill="#000"/>
<circle cx="778" cy="1109.2" r="7.8" fill="#000"/>
<circle cx="788.5" cy="1110.2" r="7.8" fill="#000"/>
</g>
<g fill="#262626" class="nk">
<text class="sb" font-size="75.0" text-anchor="end" transform="translate(246.30,1148.70) scale(0.9670,1)">0</text>
<text class="sb" font-size="75.0" text-anchor="end" transform="translate(246.30,950.50) scale(0.9670,1)">0.2</text>
<text class="sb" font-size="75.0" text-anchor="end" transform="translate(246.30,752.30) scale(0.9670,1)">0.4</text>
<text class="sb" font-size="75.0" text-anchor="end" transform="translate(246.30,554.10) scale(0.9670,1)">0.6</text>
<text class="sb" font-size="75.0" text-anchor="end" transform="translate(246.30,355.90) scale(0.9670,1)">0.8</text>
<text class="sb" font-size="75.0" text-anchor="end" transform="translate(246.30,157.70) scale(0.9670,1)">1</text>
<text class="sb" font-size="75.0" text-anchor="middle" transform="translate(270.50,1218.00) scale(0.9670,1)">0.009</text>
<text class="sb" font-size="75.0" text-anchor="middle" transform="translate(643.50,1218.00) scale(0.9670,1)">0.0095</text>
<text class="sb" font-size="75.0" text-anchor="middle" transform="translate(1016.50,1218.00) scale(0.9670,1)">0.01</text>
<text class="sb" font-size="75.0" text-anchor="middle" transform="translate(1389.50,1218.00) scale(0.9670,1)">0.0105</text>
<text class="sb" font-size="75.0" text-anchor="middle" transform="translate(1762.50,1218.00) scale(0.9670,1)">0.011</text>
</g>
<g><rect x="209.73" y="149.53" width="13.09" height="9.00" fill="#fff"/><rect x="232.79" y="149.53" width="12.33" height="9.00" fill="#fff"/><rect x="1050.52" y="1209.83" width="13.09" height="9.00" fill="#fff"/><rect x="1073.59" y="1209.83" width="12.33" height="9.00" fill="#fff"/><rect x="1383.18" y="1209.83" width="13.09" height="9.00" fill="#fff"/><rect x="1406.24" y="1209.83" width="12.33" height="9.00" fill="#fff"/><rect x="1776.35" y="1209.83" width="13.09" height="9.00" fill="#fff"/><rect x="1799.41" y="1209.83" width="12.33" height="9.00" fill="#fff"/><rect x="1816.69" y="1209.83" width="13.09" height="9.00" fill="#fff"/><rect x="1839.76" y="1209.83" width="12.33" height="9.00" fill="#fff"/></g>
<g fill="#262626">
<text class="sb" font-size="95.5" x="-4.4 70.9 108.9 139.3 171.4 228.8 268.1 297.2 359.1 396.9 434.6 469.1 534.6 560.6 630.0 657.3" y="0" transform="translate(94.9,905.9) rotate(-90) scale(0.94,1)">Criterion (A.U.)</text>
<text class="se" font-size="108.0" transform="translate(840.30,1318.70) scale(0.9030,1)" fill="#262626" stroke="#262626" stroke-width="2.6" stroke-linejoin="miter">Δ</text>
<text class="seb" font-size="115.7" transform="translate(905.15,1319.90) scale(0.9731,1) skewX(-12)" fill="#262626" stroke="#262626" stroke-width="1.2">z</text>
<text class="sbi" font-size="86.0" transform="translate(961.63,1343.10) scale(1.2062,1)">r</text>
<text class="sb" font-size="92.0" transform="translate(1034.82,1320.40) scale(0.9947,1)">(mm)</text>
</g>
</svg></body></html>
